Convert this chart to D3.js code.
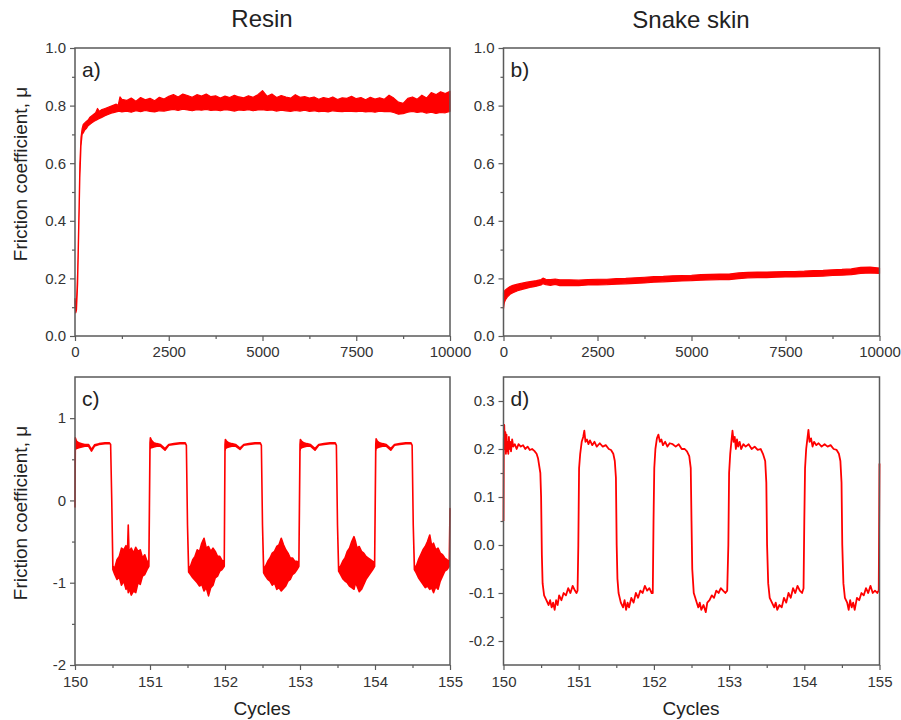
<!DOCTYPE html>
<html>
<head>
<meta charset="utf-8">
<script src="https://cdn.jsdelivr.net/npm/d3@7"></script>
<style>
  body { margin: 0; background: #fff; }
  svg { font-family: "Liberation Sans", Arial, sans-serif; }
</style>
</head>
<body>
<svg id="chart" width="901" height="720"></svg>
<script>
// ---- data ----
const titles = ['Resin', 'Snake skin'];
const panelTags = ['a)', 'b)', 'c)', 'd)'];

// long run, x = sliding cycle, band = lower/upper envelope of the noisy trace
const longTicks = [0, 2500, 5000, 7500, 10000];
const longMinor = [1250, 3750, 6250, 8750];
const muTicks = [0, 0.2, 0.4, 0.6, 0.8, 1.0];
const muMinor = [0.1, 0.3, 0.5, 0.7, 0.9];

// a) resin
const aX = [0, 20, 40, 70, 100, 130, 160, 190, 220, 260, 300, 350, 400, 450, 500, 550, 600, 650, 700, 800, 900, 1000, 1100, 1150, 1200,
  1250, 1375, 1500, 1625, 1750, 1875, 2000, 2125, 2250, 2375,
  2500, 2625, 2750, 2875, 3000, 3125, 3250, 3375, 3500, 3625,
  3750, 3875, 4000, 4125, 4250, 4375, 4500, 4625, 4750, 4875,
  5000, 5125, 5250, 5375, 5500, 5625, 5750, 5875, 6000, 6125,
  6250, 6375, 6500, 6625, 6750, 6875, 7000, 7125, 7250, 7375,
  7500, 7625, 7750, 7875, 8000, 8125, 8250, 8375, 8500, 8625,
  8750, 8875, 9000, 9125, 9250, 9375, 9500, 9625, 9750, 9875, 10000];
const aLo = [0.11, 0.08, 0.09, 0.18, 0.36, 0.55, 0.66, 0.70, 0.705, 0.715, 0.72, 0.73, 0.735, 0.74, 0.745, 0.748, 0.752, 0.755, 0.758, 0.765, 0.77, 0.775, 0.778, 0.78, 0.78,
  0.778, 0.781, 0.777, 0.782, 0.779, 0.783, 0.78, 0.778, 0.782, 0.781,
  0.784, 0.787, 0.783, 0.788, 0.785, 0.782, 0.786, 0.784, 0.787, 0.783,
  0.785, 0.782, 0.786, 0.784, 0.781, 0.785, 0.783, 0.786, 0.782, 0.785,
  0.786, 0.783, 0.785, 0.781, 0.784, 0.782, 0.78, 0.783, 0.781, 0.784,
  0.78, 0.782, 0.779, 0.781, 0.778, 0.782, 0.78, 0.779, 0.781, 0.78,
  0.779, 0.781, 0.778, 0.78, 0.777, 0.781, 0.779, 0.78, 0.776, 0.77,
  0.772, 0.777, 0.78, 0.776, 0.779, 0.774, 0.777, 0.773, 0.776, 0.775, 0.78];
const aHi = [0.13, 0.10, 0.12, 0.22, 0.40, 0.60, 0.69, 0.72, 0.735, 0.74, 0.745, 0.75, 0.76, 0.765, 0.77, 0.775, 0.79, 0.78, 0.785, 0.79, 0.795, 0.80, 0.805, 0.80, 0.83,
  0.822, 0.818, 0.826, 0.815, 0.828, 0.82, 0.825, 0.817, 0.829, 0.823,
  0.832, 0.838, 0.83, 0.84, 0.835, 0.829, 0.838, 0.833, 0.84, 0.831,
  0.834, 0.826, 0.833, 0.828, 0.836, 0.83, 0.827, 0.834, 0.829, 0.838,
  0.852, 0.832, 0.84, 0.828, 0.835, 0.83, 0.826, 0.838, 0.829, 0.831,
  0.826, 0.83, 0.822, 0.828, 0.824, 0.83, 0.821, 0.827, 0.825, 0.832,
  0.824, 0.828, 0.82, 0.829, 0.823, 0.827, 0.822, 0.836, 0.826, 0.812,
  0.808, 0.825, 0.83, 0.822, 0.836, 0.826, 0.845, 0.838, 0.848, 0.842, 0.85];

// b) snake skin
const bX = [0, 20, 50, 100, 175, 250, 375, 500, 625, 750, 875, 1000, 1050, 1125, 1250, 1375, 1500,
  1750, 2000, 2250, 2500, 2750, 3000, 3250, 3500, 3750, 4000, 4250, 4500, 4750, 5000, 5250, 5500, 5750,
  6000, 6250, 6500, 6750, 7000, 7250, 7500, 7750, 8000, 8250, 8500, 8750, 9000, 9250, 9500, 9750, 10000];
const bLo = [0.095, 0.115, 0.125, 0.135, 0.145, 0.15, 0.157, 0.162, 0.166, 0.17, 0.173, 0.177, 0.182, 0.178, 0.176, 0.179, 0.175,
  0.176, 0.175, 0.177, 0.177, 0.178, 0.18, 0.181, 0.183, 0.184, 0.187, 0.188, 0.19, 0.191, 0.192, 0.194, 0.195, 0.196,
  0.196, 0.199, 0.202, 0.203, 0.203, 0.204, 0.205, 0.205, 0.206, 0.207, 0.208, 0.21, 0.211, 0.213, 0.217, 0.219, 0.217];
const bHi = [0.15, 0.155, 0.16, 0.165, 0.172, 0.176, 0.18, 0.184, 0.187, 0.19, 0.192, 0.196, 0.201, 0.197, 0.196, 0.198, 0.195,
  0.195, 0.194, 0.196, 0.197, 0.197, 0.199, 0.2, 0.202, 0.204, 0.206, 0.207, 0.209, 0.21, 0.211, 0.213, 0.214, 0.215,
  0.215, 0.219, 0.221, 0.222, 0.222, 0.223, 0.224, 0.224, 0.225, 0.227, 0.228, 0.23, 0.231, 0.233, 0.238, 0.239, 0.236];

// short window, x = cycles 150..155
const cycTicks = [150, 151, 152, 153, 154, 155];
const cycMinor = [150.5, 151.5, 152.5, 153.5, 154.5];

// c) resin, envelope of the trace
const cX = [150.000, 150.004, 150.02, 150.05, 150.09, 150.13, 150.18, 150.22, 150.26, 150.32, 150.40, 150.46, 150.475, 150.49, 150.505,
  150.53, 150.56, 150.59, 150.62, 150.65, 150.68, 150.70, 150.71, 150.72, 150.75, 150.78, 150.81, 150.84, 150.87, 150.90, 150.93, 150.96, 150.985,
  151.0, 151.005, 151.02, 151.05, 151.09, 151.14, 151.20, 151.25, 151.32, 151.40, 151.47, 151.485, 151.50, 151.515,
  151.54, 151.57, 151.60, 151.63, 151.66, 151.69, 151.72, 151.75, 151.78, 151.81, 151.84, 151.87, 151.90, 151.93, 151.96, 151.99,
  152.0, 152.005, 152.02, 152.05, 152.09, 152.14, 152.20, 152.25, 152.32, 152.40, 152.47, 152.485, 152.50, 152.515,
  152.54, 152.57, 152.60, 152.63, 152.66, 152.69, 152.72, 152.75, 152.78, 152.81, 152.84, 152.87, 152.90, 152.93, 152.96, 152.985,
  153.0, 153.005, 153.02, 153.05, 153.09, 153.14, 153.20, 153.25, 153.32, 153.40, 153.47, 153.485, 153.50, 153.515,
  153.54, 153.57, 153.60, 153.63, 153.66, 153.69, 153.72, 153.74, 153.76, 153.79, 153.82, 153.85, 153.88, 153.91, 153.94, 153.97, 153.995,
  154.01, 154.015, 154.03, 154.06, 154.10, 154.15, 154.21, 154.26, 154.33, 154.41, 154.48, 154.495, 154.51, 154.525,
  154.55, 154.58, 154.61, 154.64, 154.67, 154.70, 154.73, 154.755, 154.78, 154.81, 154.84, 154.87, 154.90, 154.93, 154.96, 154.99, 155.0];
const cLo = [-0.08, 0.62, 0.63, 0.64, 0.65, 0.66, 0.66, 0.60, 0.66, 0.68, 0.69, 0.69, 0.68, 0.0, -0.84,
  -0.90, -0.96, -0.93, -1.03, -0.98, -1.08, -1.04, -1.12, -1.06, -1.15, -1.10, -1.12, -1.00, -1.02, -0.92, -0.90, -0.84, -0.80,
  0.62, 0.64, 0.64, 0.65, 0.66, 0.66, 0.61, 0.67, 0.68, 0.69, 0.69, 0.67, -0.30, -0.87,
  -0.90, -0.94, -0.97, -1.00, -1.04, -1.02, -1.10, -1.06, -1.16, -1.06, -1.03, -0.94, -0.92, -0.86, -0.84, -0.80,
  0.60, 0.63, 0.64, 0.65, 0.66, 0.66, 0.62, 0.67, 0.68, 0.69, 0.69, 0.67, -0.30, -0.88,
  -0.92, -0.96, -0.98, -1.03, -1.00, -1.08, -1.06, -1.10, -1.07, -1.04, -0.98, -0.96, -0.90, -0.88, -0.84, -0.80,
  0.60, 0.63, 0.64, 0.65, 0.66, 0.66, 0.61, 0.67, 0.68, 0.69, 0.69, 0.67, -0.30, -0.86,
  -0.90, -0.95, -0.98, -1.00, -1.04, -1.06, -1.08, -1.00, -1.04, -1.11, -1.08, -1.02, -0.96, -0.92, -0.88, -0.84, -0.80,
  0.60, 0.63, 0.64, 0.65, 0.66, 0.66, 0.61, 0.67, 0.68, 0.69, 0.69, 0.67, -0.30, -0.84,
  -0.88, -0.94, -0.98, -1.02, -1.06, -1.04, -1.08, -1.06, -1.12, -1.05, -1.08, -0.98, -0.92, -0.86, -0.84, -0.80, -0.10];
const cHi = [-0.08, 0.76, 0.72, 0.70, 0.69, 0.68, 0.68, 0.62, 0.675, 0.69, 0.70, 0.70, 0.68, 0.0, -0.80,
  -0.82, -0.72, -0.68, -0.58, -0.60, -0.55, -0.62, -0.30, -0.63, -0.58, -0.64, -0.57, -0.62, -0.60, -0.70, -0.66, -0.74, -0.74,
  0.70, 0.76, 0.73, 0.70, 0.69, 0.68, 0.63, 0.68, 0.69, 0.70, 0.70, 0.67, -0.30, -0.82,
  -0.80, -0.72, -0.68, -0.60, -0.62, -0.52, -0.46, -0.58, -0.56, -0.62, -0.58, -0.62, -0.68, -0.68, -0.73, -0.75,
  0.68, 0.74, 0.72, 0.70, 0.69, 0.68, 0.635, 0.68, 0.69, 0.70, 0.70, 0.67, -0.30, -0.83,
  -0.80, -0.74, -0.70, -0.64, -0.62, -0.56, -0.54, -0.46, -0.54, -0.60, -0.64, -0.70, -0.70, -0.74, -0.74, -0.76,
  0.68, 0.74, 0.72, 0.70, 0.69, 0.68, 0.63, 0.68, 0.69, 0.70, 0.70, 0.67, -0.30, -0.82,
  -0.80, -0.74, -0.70, -0.62, -0.58, -0.50, -0.44, -0.50, -0.58, -0.56, -0.62, -0.64, -0.68, -0.70, -0.72, -0.74, -0.76,
  0.68, 0.75, 0.72, 0.70, 0.69, 0.68, 0.63, 0.68, 0.69, 0.70, 0.70, 0.67, -0.30, -0.80,
  -0.80, -0.72, -0.66, -0.60, -0.56, -0.50, -0.42, -0.55, -0.52, -0.60, -0.58, -0.64, -0.66, -0.70, -0.72, -0.75, -0.10];

// d) snake skin
const dX = [150.000, 150.004, 150.010, 150.018, 150.025, 150.032, 150.040, 150.048, 150.056, 150.064, 150.072, 150.080, 150.090, 150.100, 150.115, 150.130, 150.150, 150.175, 150.200, 150.230, 150.260, 150.290, 150.320, 150.350, 150.380, 150.410, 150.440, 150.460, 150.475, 150.490, 150.500, 150.510, 150.520,
  150.540, 150.570, 150.600, 150.620, 150.640, 150.660, 150.680, 150.700, 150.720, 150.740, 150.770, 150.800, 150.830, 150.860, 150.890, 150.920, 150.950, 150.970, 150.985, 150.995,
  151.005, 151.020, 151.040, 151.060, 151.075, 151.090, 151.110, 151.130, 151.150, 151.180, 151.210, 151.240, 151.280, 151.320, 151.360, 151.400, 151.430, 151.460, 151.480, 151.495, 151.505, 151.515, 151.530,
  151.560, 151.590, 151.610, 151.630, 151.650, 151.670, 151.700, 151.730, 151.760, 151.790, 151.820, 151.850, 151.880, 151.910, 151.940, 151.970, 151.985, 151.995,
  152.005, 152.020, 152.040, 152.060, 152.080, 152.100, 152.120, 152.150, 152.180, 152.210, 152.250, 152.290, 152.330, 152.370, 152.410, 152.440, 152.470, 152.490, 152.500, 152.510, 152.530,
  152.560, 152.590, 152.610, 152.630, 152.660, 152.690, 152.710, 152.740, 152.770, 152.800, 152.830, 152.860, 152.890, 152.920, 152.950, 152.975, 152.990,
  153.000, 153.015, 153.030, 153.045, 153.060, 153.075, 153.090, 153.105, 153.120, 153.140, 153.160, 153.190, 153.220, 153.260, 153.300, 153.340, 153.380, 153.420, 153.450, 153.480, 153.495, 153.505, 153.520, 153.540,
  153.570, 153.600, 153.620, 153.640, 153.670, 153.700, 153.730, 153.760, 153.790, 153.820, 153.850, 153.880, 153.910, 153.940, 153.970, 153.990, 154.000,
  154.010, 154.025, 154.040, 154.055, 154.070, 154.090, 154.110, 154.130, 154.160, 154.190, 154.230, 154.270, 154.310, 154.350, 154.390, 154.430, 154.460, 154.480, 154.495, 154.505, 154.520, 154.540,
  154.570, 154.590, 154.610, 154.630, 154.650, 154.670, 154.700, 154.730, 154.760, 154.790, 154.820, 154.850, 154.880, 154.910, 154.940, 154.970, 154.990, 155.000];
const dY = [0.05, 0.22, 0.25, 0.20, 0.235, 0.19, 0.23, 0.195, 0.215, 0.19, 0.225, 0.20, 0.215, 0.195, 0.22, 0.205, 0.21, 0.20, 0.21, 0.205, 0.208, 0.20, 0.205, 0.198, 0.20, 0.196, 0.19, 0.18, 0.165, 0.15, 0.10, -0.02, -0.08,
  -0.105, -0.115, -0.125, -0.115, -0.13, -0.12, -0.135, -0.115, -0.125, -0.105, -0.115, -0.10, -0.105, -0.09, -0.10, -0.085, -0.095, -0.10, -0.095, 0.0,
  0.16, 0.19, 0.215, 0.225, 0.238, 0.215, 0.22, 0.21, 0.218, 0.208, 0.215, 0.205, 0.212, 0.205, 0.208, 0.20, 0.198, 0.19, 0.175, 0.14, 0.0, -0.07, -0.10,
  -0.12, -0.13, -0.115, -0.135, -0.12, -0.13, -0.11, -0.12, -0.10, -0.11, -0.095, -0.10, -0.085, -0.095, -0.09, -0.10, -0.10, 0.05,
  0.16, 0.20, 0.222, 0.23, 0.215, 0.22, 0.208, 0.215, 0.205, 0.212, 0.21, 0.205, 0.21, 0.20, 0.20, 0.195, 0.185, 0.16, 0.05, -0.05, -0.10,
  -0.115, -0.13, -0.12, -0.135, -0.125, -0.14, -0.12, -0.115, -0.105, -0.11, -0.095, -0.10, -0.09, -0.095, -0.10, -0.095, 0.0,
  0.15, 0.19, 0.215, 0.238, 0.215, 0.225, 0.20, 0.22, 0.205, 0.215, 0.20, 0.21, 0.205, 0.21, 0.20, 0.205, 0.198, 0.20, 0.19, 0.175, 0.13, 0.0, -0.08, -0.11,
  -0.12, -0.13, -0.12, -0.135, -0.125, -0.13, -0.11, -0.12, -0.10, -0.11, -0.09, -0.10, -0.085, -0.095, -0.10, -0.09, 0.05,
  0.16, 0.20, 0.22, 0.24, 0.215, 0.222, 0.205, 0.215, 0.208, 0.212, 0.205, 0.21, 0.205, 0.208, 0.20, 0.198, 0.19, 0.175, 0.13, 0.0, -0.08, -0.11,
  -0.12, -0.135, -0.115, -0.13, -0.12, -0.135, -0.11, -0.115, -0.10, -0.105, -0.09, -0.10, -0.085, -0.10, -0.095, -0.10, -0.095, 0.17];

const cTicks = [-2, -1, 0, 1];
const cMinor = [-1.5, -0.5, 0.5];
const dTicks = [-0.2, -0.1, 0.0, 0.1, 0.2, 0.3];
const dMinor = [-0.15, -0.05, 0.05, 0.15, 0.25];

// ---- drawing ----
const RED = '#ff0000';
const FRAME = '#5a5a5a';
const TXT = '#333';
const minusFix = f => v => f(v).replace('\u2212', '-');

const svg = d3.select('#chart');

// column left edges, row top edges
const cols = [75, 503.5];
const rows = [48, 377];
const W = [375, 376];
const H = 288;

function panel(col, row, xDom, yDom, xt, xm, yt, ym, xFmt, yFmt, tag) {
  const g = svg.append('g').attr('transform', `translate(${cols[col]},${rows[row]})`);
  const w = W[col];
  const x = d3.scaleLinear().domain(xDom).range([0, w]);
  const y = d3.scaleLinear().domain(yDom).range([H, 0]);

  const xa = g.append('g').attr('transform', `translate(0,${H})`)
    .call(d3.axisBottom(x).tickValues(xt).tickSize(5).tickSizeOuter(0).tickPadding(row ? 6 : 5).tickFormat(xFmt));
  const xm2 = g.append('g').attr('transform', `translate(0,${H})`)
    .call(d3.axisBottom(x).tickValues(xm).tickSize(3).tickSizeOuter(0).tickFormat(''));
  const ya = g.append('g')
    .call(d3.axisLeft(y).tickValues(yt).tickSize(5).tickSizeOuter(0).tickPadding(4).tickFormat(yFmt));
  const ym2 = g.append('g')
    .call(d3.axisLeft(y).tickValues(ym).tickSize(3).tickSizeOuter(0).tickFormat(''));

  [xa, xm2, ya, ym2].forEach(a => {
    a.select('.domain').remove();
    a.selectAll('line').attr('stroke', FRAME).attr('stroke-width', 1.2);
    a.selectAll('text').attr('fill', TXT).style('font-size', '15px');
  });

  g.append('text').attr('x', 7).attr('y', 29).attr('fill', '#222')
    .style('font-size', '21px').text(tag);

  return { g, x, y, w };
}

function band(p, xs, lo, hi, sw) {
  const area = d3.area()
    .x((d, i) => p.x(xs[i]))
    .y0((d, i) => p.y(lo[i]))
    .y1((d, i) => p.y(hi[i]));
  p.g.append('path').datum(xs).attr('d', area)
    .attr('fill', RED).attr('stroke', RED).attr('stroke-width', sw)
    .attr('stroke-linejoin', 'round');
}

function frame(p) {
  p.g.append('rect').attr('width', p.w).attr('height', H)
    .attr('fill', 'none').attr('stroke', FRAME).attr('stroke-width', 1.5);
}

const fmt1 = minusFix(d3.format('.1f'));
const fmtD = minusFix(d3.format('d'));

const pa = panel(0, 0, [0, 10000], [0, 1], longTicks, longMinor, muTicks, muMinor, fmtD, fmt1, panelTags[0]);
band(pa, aX, aLo, aHi, 1.2);
frame(pa);

const pb = panel(1, 0, [0, 10000], [0, 1], longTicks, longMinor, muTicks, muMinor, fmtD, fmt1, panelTags[1]);
band(pb, bX, bLo, bHi, 1.2);
frame(pb);

const pc = panel(0, 1, [150, 155], [-2, 1.5], cycTicks, cycMinor, cTicks, cMinor, fmtD, fmtD, panelTags[2]);
band(pc, cX, cLo, cHi, 1.6);
frame(pc);

const pd = panel(1, 1, [150, 155], [-0.25, 0.35], cycTicks, cycMinor, dTicks, dMinor, fmtD, fmt1, panelTags[3]);
pd.g.append('path').datum(dX)
  .attr('d', d3.line().x((d, i) => pd.x(dX[i])).y((d, i) => pd.y(dY[i])))
  .attr('fill', 'none').attr('stroke', RED).attr('stroke-width', 1.8)
  .attr('stroke-linejoin', 'round');
frame(pd);

// column titles
svg.append('text').attr('x', 262).attr('y', 27).attr('text-anchor', 'middle')
  .attr('fill', '#222').style('font-size', '24px').text(titles[0]);
svg.append('text').attr('x', 691).attr('y', 28).attr('text-anchor', 'middle')
  .attr('fill', '#222').style('font-size', '24px').text(titles[1]);

// axis titles
[174, 513].forEach(cy => {
  svg.append('text').attr('transform', `translate(27,${cy}) rotate(-90)`)
    .attr('text-anchor', 'middle').attr('fill', '#222').style('font-size', '19px')
    .text('Friction coefficient, μ');
});
[262, 691].forEach(cx => {
  svg.append('text').attr('x', cx).attr('y', 715).attr('text-anchor', 'middle')
    .attr('fill', '#222').style('font-size', '19px').text('Cycles');
});
</script>
</body>
</html>
